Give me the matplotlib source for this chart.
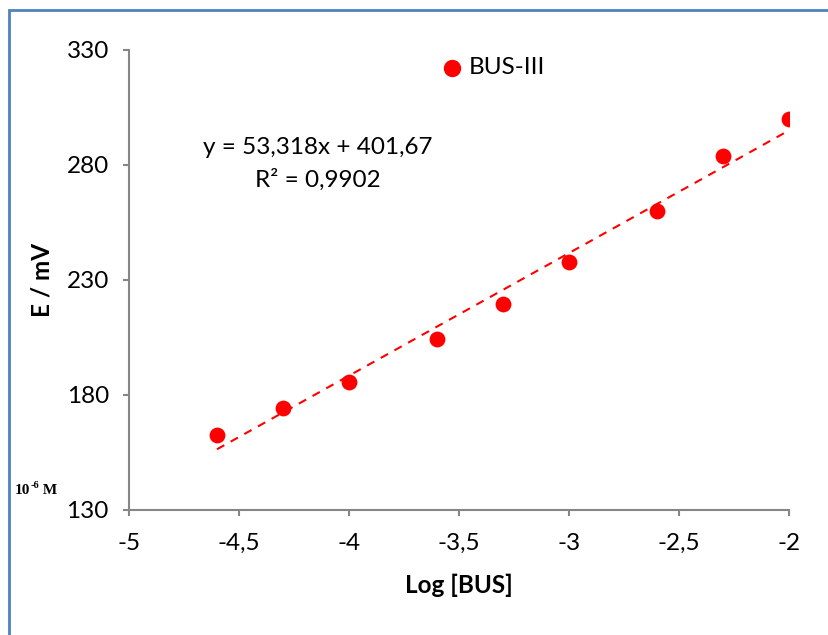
import matplotlib
matplotlib.use("Agg")
import matplotlib.pyplot as plt
from matplotlib.patches import Rectangle
import numpy as np

# Measured potential vs log concentration
log_conc = [-4.6, -4.3, -4.0, -3.6, -3.3, -3.0, -2.6, -2.3, -2.0]
potential = [162.6, 174.3, 185.7, 204.3, 219.6, 237.8, 260.0, 283.9, 300.0]

# Linear trendline
slope = 53.318
intercept = 401.67
r_squared = 0.9902

x_ticks = [-5, -4.5, -4, -3.5, -3, -2.5, -2]
y_ticks = [130, 180, 230, 280, 330]

plt.rcParams['font.family'] = ['Lato', 'DejaVu Sans']
FS = 17.5

W, H = 829, 635
fig = plt.figure(figsize=(W / 100, H / 100), dpi=100)
ax = fig.add_axes([129 / W, (H - 510) / H, 660 / W, 460 / H])

gray = '#868686'
ax.scatter(log_conc, potential, s=130, color='#ff0000', zorder=3, linewidths=0)

xf = np.array([min(log_conc), max(log_conc)])
ax.plot(xf, slope * xf + intercept, color='#ff0000', lw=1.5,
        dashes=(4, 3.5), zorder=2)

ax.set_xlim(-5, -2)
ax.set_ylim(130, 330)
ax.set_xticks(x_ticks)
ax.set_yticks(y_ticks)
ax.set_xticklabels([f"{t:g}".replace('.', ',') for t in x_ticks])
ax.set_yticklabels([str(t) for t in y_ticks])

for side in ('top', 'right'):
    ax.spines[side].set_visible(False)
for side in ('left', 'bottom'):
    ax.spines[side].set_color(gray)
    ax.spines[side].set_linewidth(1.5)
ax.tick_params(axis='both', direction='out', length=4.5, width=1.5,
               color=gray, labelsize=FS, labelcolor='black')
ax.tick_params(axis='x', pad=12)
ax.tick_params(axis='y', pad=10)

ax.set_xlabel('Log [BUS]', fontsize=FS, fontweight='bold', labelpad=14)
ax.set_ylabel('E / mV', fontsize=FS, fontweight='bold', labelpad=9)

# Trendline equation
fig.text(318 / W, 1 - 148 / H, f"y = {slope:.3f}x + {intercept:.2f}".replace('.', ','),
         fontsize=FS, ha='center', va='center')
fig.text(318 / W, 1 - 180 / H, f"R² = {r_squared:.4f}".replace('.', ','),
         fontsize=FS, ha='center', va='center')

# Legend entry
fig.lines.append(plt.Line2D([452 / W], [1 - 68 / H], transform=fig.transFigure,
                            marker='o', markersize=11.5, color='#ff0000', lw=0))
fig.text(469 / W, 1 - 68 / H, 'BUS-III', fontsize=FS, ha='left', va='center')

# Concentration unit note: 10^-6 M
serif = dict(family=['Liberation Serif'], fontweight='bold', va='baseline')
x0, yb = 15 / W, 1 - 494 / H
t1 = fig.text(x0, yb, '10', fontsize=11, ha='left', **serif)
fig.canvas.draw()
bb = t1.get_window_extent()
t2 = fig.text(bb.x1 / W, yb + 5.5 / H, '-6', fontsize=7.5, ha='left', **serif)
fig.canvas.draw()
bb2 = t2.get_window_extent()
fig.text(bb2.x1 / W, yb, ' M', fontsize=11, ha='left', **serif)

# Chart frame
fig.patches.append(Rectangle((9 / W, -0.05), 1.1, 1 - 10 / H + 0.05,
                             transform=fig.transFigure, fill=False,
                             edgecolor='#4f81bd', lw=2))

fig.savefig('out.png', dpi=100)
